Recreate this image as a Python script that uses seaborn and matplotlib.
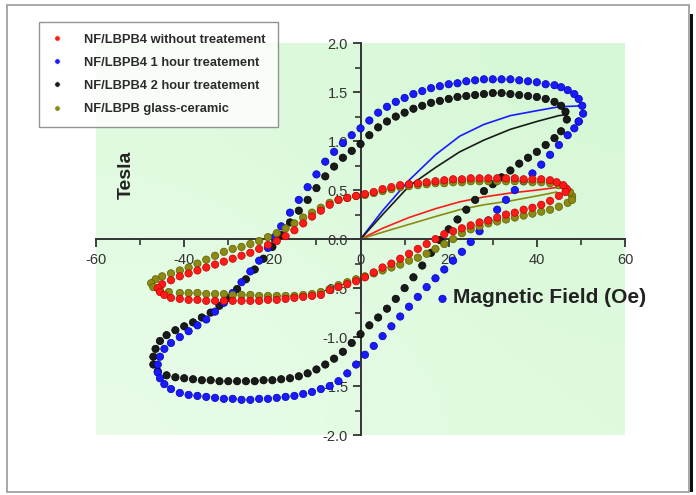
import numpy as np
import pandas as pd
import matplotlib.pyplot as plt
import matplotlib.patches as mpatches
from matplotlib.ticker import MultipleLocator, FormatStrFormatter
import seaborn as sns

# hysteresis loops, going round each loop from the right tip
red_x = [46.8, 46, 44.5, 43, 41, 39, 37, 35, 33, 31, 29, 27, 25, 23, 21, 19, 17, 15, 13, 11, 9, 7, 5, 3, 1,
         -1, -3, -5, -7, -9, -11, -13, -15, -17, -19, -21, -23, -25, -27, -29, -31, -33, -35, -37, -39, -41,
         -43, -45, -46, -45.5, -44.5, -43, -41, -39, -37, -35, -33, -31, -29, -27, -25, -23, -21, -19, -17,
         -15, -13, -11, -9, -7, -5, -3, -1, 1, 3, 5, 7, 9, 11, 13, 15, 17, 19, 21, 23, 25, 27, 29, 31, 33,
         35, 37, 39, 41, 43, 45, 46.5]
red_y = [0.51, 0.55, 0.58, 0.60, 0.61, 0.61, 0.61, 0.62, 0.62, 0.62, 0.62, 0.62, 0.62, 0.61, 0.61, 0.60,
         0.59, 0.58, 0.57, 0.56, 0.55, 0.53, 0.51, 0.48, 0.46, 0.44, 0.42, 0.40, 0.35, 0.29, 0.23, 0.16, 0.09,
         0.03, -0.02, -0.06, -0.10, -0.14, -0.17, -0.20, -0.23, -0.26, -0.29, -0.32, -0.35, -0.38, -0.42,
         -0.46, -0.50, -0.54, -0.57, -0.60, -0.61, -0.62, -0.62, -0.63, -0.63, -0.63, -0.63, -0.63, -0.63,
         -0.63, -0.62, -0.62, -0.61, -0.60, -0.59, -0.58, -0.57, -0.52, -0.49, -0.46, -0.43, -0.39, -0.34,
         -0.29, -0.25, -0.20, -0.15, -0.10, -0.05, 0.00, 0.05, 0.08, 0.11, 0.14, 0.17, 0.19, 0.22, 0.25,
         0.27, 0.30, 0.32, 0.35, 0.39, 0.44, 0.48]

blue_x = [49.5, 50.5, 50.3, 49.5, 48.5, 47, 45.5, 44, 42, 40, 38, 36, 34, 32, 30, 28, 26, 24, 22, 20, 18,
          16, 14, 12, 10, 8, 6, 4, 2, 0, -2, -4, -6, -8, -10, -12, -14, -16, -18, -19.5, -21, -23, -25, -27,
          -29, -31, -33, -35, -37, -39, -41, -43, -44.5, -45.5, -46, -46, -45.5, -44.5, -43, -41, -39, -37,
          -35, -33, -31, -29, -27, -25, -23, -21, -19, -17, -15, -13, -11, -9, -7, -5, -3, -1, 1, 3, 5, 7,
          9, 11, 13, 15, 17, 18.6, 19, 21, 23, 25, 27, 29, 31, 33, 35, 37, 39, 41, 43, 45, 47, 48.5, 49.5]
blue_y = [1.20, 1.28, 1.36, 1.43, 1.48, 1.52, 1.55, 1.57, 1.58, 1.60, 1.61, 1.62, 1.63, 1.63, 1.63, 1.63,
          1.62, 1.61, 1.59, 1.58, 1.56, 1.54, 1.51, 1.48, 1.44, 1.40, 1.35, 1.29, 1.21, 1.13, 1.06, 0.98,
          0.89, 0.79, 0.66, 0.53, 0.40, 0.27, 0.13, 0.02, -0.09, -0.22, -0.33, -0.44, -0.55, -0.65, -0.74,
          -0.82, -0.88, -0.94, -1.00, -1.06, -1.12, -1.20, -1.28, -1.36, -1.42, -1.48, -1.53, -1.57, -1.59,
          -1.60, -1.61, -1.62, -1.63, -1.63, -1.64, -1.64, -1.63, -1.63, -1.62, -1.61, -1.60, -1.58, -1.56,
          -1.53, -1.50, -1.45, -1.37, -1.28, -1.18, -1.09, -0.99, -0.89, -0.79, -0.69, -0.59, -0.49, -0.40,
          -0.61, -0.31, -0.22, -0.13, -0.03, 0.08, 0.19, 0.30, 0.40, 0.50, 0.59, 0.67, 0.76, 0.86, 0.96,
          1.06, 1.13, 1.20]

black_x = [46.8, 46.5, 45.5, 44, 42, 40, 38, 36, 34, 32, 30, 28, 26, 24, 22, 20, 18, 16, 14, 12, 10, 8,
           6, 4, 2, 0, -2, -4, -6, -8, -10, -12, -14, -16, -18, -20, -22, -24, -26, -28, -30, -32, -34, -36,
           -38, -40, -42, -44, -45.5, -46.5, -47, -47, -46, -44, -42, -40, -38, -36, -34, -32, -30, -28, -26,
           -24, -22, -20, -18, -16, -14, -12, -10, -8, -6, -4, -2, 0, 2, 4, 6, 8, 10, 12, 14, 16, 18, 20, 22,
           24, 26, 28, 30, 32, 34, 36, 38, 40, 42, 44, 45.5]
black_y = [1.22, 1.30, 1.36, 1.40, 1.43, 1.45, 1.46, 1.47, 1.48, 1.49, 1.49, 1.48, 1.47, 1.46, 1.45, 1.43,
           1.41, 1.39, 1.36, 1.33, 1.29, 1.25, 1.20, 1.14, 1.06, 0.97, 0.90, 0.83, 0.74, 0.64, 0.52, 0.40,
           0.29, 0.17, 0.04, -0.08, -0.20, -0.31, -0.41, -0.51, -0.60, -0.68, -0.75, -0.80, -0.85, -0.89,
           -0.93, -0.98, -1.04, -1.12, -1.20, -1.28, -1.35, -1.39, -1.41, -1.42, -1.43, -1.44, -1.44, -1.45,
           -1.45, -1.45, -1.45, -1.45, -1.44, -1.44, -1.43, -1.42, -1.40, -1.37, -1.33, -1.28, -1.22, -1.15,
           -1.06, -0.97, -0.88, -0.80, -0.71, -0.61, -0.50, -0.39, -0.27, -0.14, -0.01, 0.10, 0.20, 0.30,
           0.40, 0.49, 0.56, 0.63, 0.70, 0.77, 0.83, 0.89, 0.96, 1.03, 1.10]

olive_x = [48, 47.5, 46.5, 45, 43, 41, 39, 37, 35, 33, 31, 29, 27, 25, 23, 21, 19, 17, 15, 13, 11, 9, 7,
           5, 3, 1, -1, -3, -5, -7, -9, -11, -13, -15, -17, -19, -21, -23, -25, -27, -29, -31, -33, -35, -37,
           -39, -41, -43, -45, -46.5, -47.5, -47, -45.5, -43.5, -41, -39, -37, -35, -33, -31, -29, -27, -25,
           -23, -21, -19, -17, -15, -13, -11, -9, -7, -5, -3, -1, 1, 3, 5, 7, 9, 11, 13, 15, 17, 19, 21, 23,
           25, 27, 29, 31, 33, 35, 37, 39, 41, 43, 45, 47, 48]
olive_y = [0.44, 0.48, 0.52, 0.55, 0.57, 0.58, 0.58, 0.59, 0.59, 0.59, 0.59, 0.59, 0.59, 0.59, 0.58, 0.58,
           0.57, 0.57, 0.56, 0.55, 0.54, 0.53, 0.51, 0.49, 0.47, 0.45, 0.44, 0.42, 0.40, 0.37, 0.32, 0.27,
           0.22, 0.16, 0.11, 0.06, 0.02, -0.02, -0.05, -0.08, -0.10, -0.13, -0.17, -0.21, -0.25, -0.29, -0.32,
           -0.35, -0.38, -0.41, -0.45, -0.49, -0.52, -0.54, -0.55, -0.55, -0.55, -0.56, -0.56, -0.56, -0.57,
           -0.57, -0.57, -0.58, -0.58, -0.58, -0.58, -0.58, -0.57, -0.56, -0.54, -0.51, -0.47, -0.44, -0.41,
           -0.38, -0.35, -0.32, -0.29, -0.26, -0.22, -0.19, -0.15, -0.10, -0.05, 0.00, 0.06, 0.10, 0.13, 0.16,
           0.18, 0.20, 0.22, 0.24, 0.26, 0.28, 0.30, 0.33, 0.37, 0.40]

# initial magnetisation curves
blue_vx = [0, 5, 11, 17, 22.5, 28, 34, 40, 45, 50.5]
blue_vy = [0, 0.29, 0.60, 0.86, 1.05, 1.17, 1.26, 1.31, 1.35, 1.36]
black_vx = [0, 5, 11, 17, 22.5, 28, 34, 40, 45, 47]
black_vy = [0, 0.25, 0.54, 0.73, 0.89, 1.01, 1.12, 1.20, 1.26, 1.27]
red_vx = [0, 5, 11, 17, 22.5, 28, 34, 40, 45]
red_vy = [0, 0.11, 0.22, 0.31, 0.38, 0.43, 0.47, 0.50, 0.53]
olive_vx = [0, 5, 11, 17, 22.5, 28, 34, 40, 44.5]
olive_vy = [0, 0.07, 0.15, 0.23, 0.30, 0.35, 0.39, 0.44, 0.48]

labels = ['NF/LBPB4 without treatement', 'NF/LBPB4 1 hour treatement',
          'NF/LBPB4 2 hour treatement', 'NF/LBPB glass-ceramic']
colors = ['#ff1a1a', '#1a1aff', '#1a1a1a', '#8a8a14']
edges = ['#c00000', '#0000b0', '#000000', '#5e5e00']

sns.set_style("ticks")
plt.rcParams['font.family'] = ['Liberation Sans', 'DejaVu Sans']
plt.rcParams['axes.unicode_minus'] = False

# draw order: black, blue, olive, red on top
loops = pd.concat([
    pd.DataFrame({'H': black_x, 'B': black_y, 'Sample': labels[2]}),
    pd.DataFrame({'H': blue_x, 'B': blue_y, 'Sample': labels[1]}),
    pd.DataFrame({'H': olive_x, 'B': olive_y, 'Sample': labels[3]}),
    pd.DataFrame({'H': red_x, 'B': red_y, 'Sample': labels[0]}),
], ignore_index=True)
virgin = pd.concat([
    pd.DataFrame({'H': red_vx, 'B': red_vy, 'Sample': labels[0]}),
    pd.DataFrame({'H': blue_vx, 'B': blue_vy, 'Sample': labels[1]}),
    pd.DataFrame({'H': black_vx, 'B': black_vy, 'Sample': labels[2]}),
    pd.DataFrame({'H': olive_vx, 'B': olive_vy, 'Sample': labels[3]}),
], ignore_index=True)

fig = plt.figure(figsize=(6.96, 4.95), dpi=100)
ax = fig.add_axes([0.138, 0.121, 0.760, 0.792])

# pale green background, a bit lighter at bottom-left
grad = np.array([[0.0, 0.5], [0.5, 1.0]])
cmap = sns.blend_palette(['#e8fce8', '#d6f8d6'], as_cmap=True)
ax.imshow(grad, extent=(-60, 60, -2, 2), cmap=cmap, aspect='auto', interpolation='bicubic',
          origin='lower', zorder=0)

pal = dict(zip(labels, colors))
sns.lineplot(data=virgin, x='H', y='B', hue='Sample', palette=pal, sort=False,
             estimator=None, lw=1.2, legend=False, ax=ax, zorder=2)
sns.scatterplot(data=loops, x='H', y='B', hue='Sample', hue_order=labels, palette=pal,
                s=28, linewidth=0.5, ax=ax, zorder=3)
pts = ax.collections[-1]
pts.set_edgecolors([edges[labels.index(v)] for v in loops['Sample']])

handles, labs = ax.get_legend_handles_labels()
ax.get_legend().remove()
leg = fig.legend(handles, labs, loc='upper left', bbox_to_anchor=(0.047, 0.968),
                 frameon=True, fancybox=False, borderpad=0.9, labelspacing=0.85,
                 handlelength=1.0, handletextpad=1.6, markerscale=0.75,
                 prop={'weight': 'bold', 'size': 9.3})
leg.get_frame().set_edgecolor('#7a7a7a')
leg.get_frame().set_linewidth(1.0)
for t in leg.get_texts():
    t.set_color('#2b2b2b')

ax.set_xlim(-60, 60)
ax.set_ylim(-2, 2)
ax.spines['left'].set_position(('data', 0))
ax.spines['bottom'].set_position(('data', 0))
ax.spines['top'].set_visible(False)
ax.spines['right'].set_visible(False)
for s in ['left', 'bottom']:
    ax.spines[s].set_linewidth(1.4)
    ax.spines[s].set_color('#333333')
ax.xaxis.set_major_locator(MultipleLocator(20))
ax.xaxis.set_minor_locator(MultipleLocator(10))
ax.yaxis.set_major_locator(MultipleLocator(0.5))
ax.yaxis.set_minor_locator(MultipleLocator(0.25))
ax.yaxis.set_major_formatter(FormatStrFormatter('%.1f'))
ax.tick_params(which='major', length=6, width=1.3, color='#333333', labelsize=10.5,
               labelcolor='#333333', direction='out')
ax.tick_params(which='minor', length=4, width=1.2, color='#333333', direction='out')
ax.tick_params(axis='x', pad=4)
ax.tick_params(axis='y', pad=3)
ax.set_xlabel('')
ax.set_ylabel('')

fig.text(0.182, 0.646, 'Tesla', rotation=90, ha='center', va='center',
         fontsize=14, fontweight='bold', color='#222222')
fig.text(0.790, 0.398, 'Magnetic Field (Oe)', ha='center', va='center',
         fontsize=15, fontweight='bold', color='#222222')

# outer frame of the figure
fig.patches.append(mpatches.Rectangle((0.010, 0.006), 0.980, 0.984, transform=fig.transFigure,
                                      fill=False, edgecolor='#9a9a9a', lw=1.2))
fig.patches.append(mpatches.Rectangle((0.991, 0.006), 0.005, 0.965, transform=fig.transFigure,
                                      facecolor='#111111', edgecolor='none'))

fig.savefig('out.png', dpi=100)
